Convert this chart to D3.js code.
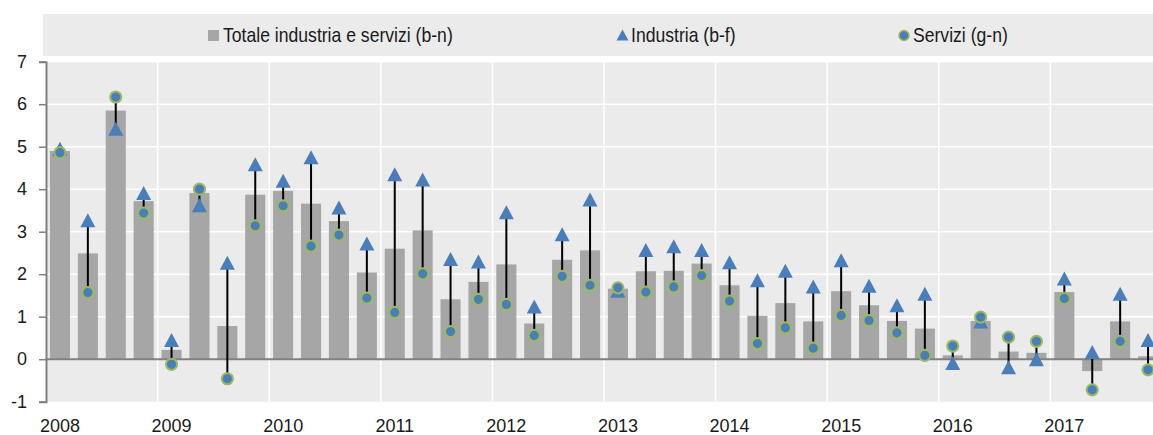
<!DOCTYPE html>
<html>
<head>
<meta charset="utf-8">
<script src="https://cdn.jsdelivr.net/npm/d3@7"></script>
<style>
  html, body { margin: 0; padding: 0; background: #fff; }
  svg { display: block; }
  .leg text { font-family: "Liberation Sans", Arial, sans-serif; font-size: 20px; fill: #1a1a1a; }
  .axis text { font-family: "Liberation Sans", Arial, sans-serif; font-size: 18px; fill: #1a1a1a; }
</style>
</head>
<body>
<div id="chart"></div>
<script>
// trimestri 2008-2017
const quarters = [
  "2008T1","2008T2","2008T3","2008T4","2009T1","2009T2","2009T3","2009T4",
  "2010T1","2010T2","2010T3","2010T4","2011T1","2011T2","2011T3","2011T4",
  "2012T1","2012T2","2012T3","2012T4","2013T1","2013T2","2013T3","2013T4",
  "2014T1","2014T2","2014T3","2014T4","2015T1","2015T2","2015T3","2015T4",
  "2016T1","2016T2","2016T3","2016T4","2017T1","2017T2","2017T3","2017T4"
];
const yearLabels = ["2008","2009","2010","2011","2012","2013","2014","2015","2016","2017"];
const yTicks = [-1, 0, 1, 2, 3, 4, 5, 6, 7];

const totale = [4.90, 2.49, 5.85, 3.72, 0.22, 3.91, 0.78, 3.87, 3.96, 3.66, 3.25, 2.04,
  2.60, 3.03, 1.41, 1.82, 2.23, 0.84, 2.34, 2.56, 1.66, 2.07, 2.08, 2.25,
  1.74, 1.02, 1.32, 0.89, 1.60, 1.27, 0.90, 0.72, 0.09, 0.90, 0.18, 0.15,
  1.58, -0.28, 0.89, 0.07];
const industria = [4.95, 3.27, 5.42, 3.91, 0.45, 3.62, 2.27, 4.59, 4.20, 4.75, 3.57, 2.72,
  4.35, 4.23, 2.36, 2.30, 3.46, 1.24, 2.94, 3.76, 1.61, 2.57, 2.66, 2.57,
  2.28, 1.86, 2.08, 1.71, 2.33, 1.73, 1.27, 1.54, -0.09, 0.89, -0.19, 0.00,
  1.90, 0.17, 1.54, 0.45];
const servizi = [4.86, 1.57, 6.17, 3.44, -0.12, 4.00, -0.46, 3.14, 3.61, 2.66, 2.92, 1.44,
  1.10, 2.01, 0.65, 1.41, 1.29, 0.56, 1.95, 1.74, 1.68, 1.58, 1.70, 1.97,
  1.37, 0.37, 0.74, 0.26, 1.03, 0.91, 0.62, 0.09, 0.31, 0.99, 0.52, 0.42,
  1.43, -0.72, 0.42, -0.25];

const legendItems = ["Totale industria e servizi (b-n)", "Industria (b-f)", "Servizi (g-n)"];

const W = 1153, H = 435;
const grey = "#a6a6a6", blue = "#4a7ebb", green = "#9bbb59", bg = "#ebebeb";

const svg = d3.select("#chart").append("svg").attr("width", W).attr("height", H);

const x = d3.scaleBand().domain(quarters).range([46, 1162]).paddingInner(0.28).paddingOuter(0.14);
const y = d3.scaleLinear().domain([-1, 7]).range([401.7, 61.7]);

// legenda
const leg = svg.append("g").attr("class", "leg");
leg.append("rect").attr("x", 43).attr("y", 14).attr("width", W - 43).attr("height", 42).attr("fill", bg);
leg.append("rect").attr("x", 208).attr("y", 30).attr("width", 11).attr("height", 11).attr("fill", grey);
leg.append("path").attr("d", "M0,-5.5L6,5.5L-6,5.5Z").attr("transform", "translate(622.5,35)").attr("fill", blue);
leg.append("circle").attr("cx", 904).attr("cy", 35.5).attr("r", 5).attr("fill", blue).attr("stroke", green).attr("stroke-width", 1.6);
// testo stretto (tipo Arial Narrow)
leg.selectAll("text.lt").data(legendItems).enter().append("text")
  .attr("transform", (d, i) => `translate(${[223, 631, 913][i]},42) scale(0.88,1)`)
  .text(d => d);

// sfondo area del grafico
svg.append("rect").attr("x", 46).attr("y", y(7)).attr("width", W - 46).attr("height", y(-1) - y(7)).attr("fill", bg);

// griglia
svg.append("g").selectAll("line").data(yTicks.filter(d => d > -1 && d !== 0)).enter().append("line")
  .attr("x1", 46).attr("x2", W).attr("y1", d => y(d)).attr("y2", d => y(d))
  .attr("stroke", "#fff").attr("stroke-width", 1.5);
svg.append("g").selectAll("line").data(yearLabels.slice(1)).enter().append("line")
  .attr("x1", (d, i) => x(quarters[(i + 1) * 4]) - x.step() * x.paddingInner() / 2)
  .attr("x2", (d, i) => x(quarters[(i + 1) * 4]) - x.step() * x.paddingInner() / 2)
  .attr("y1", y(7)).attr("y2", y(-1)).attr("stroke", "#fff").attr("stroke-width", 1.5);

// barre
svg.append("g").selectAll("rect").data(totale).enter().append("rect")
  .attr("x", (d, i) => x(quarters[i]))
  .attr("width", x.bandwidth())
  .attr("y", d => y(Math.max(0, d)))
  .attr("height", d => Math.abs(y(d) - y(0)))
  .attr("fill", grey);

// asse zero
svg.append("line").attr("x1", 46).attr("x2", W).attr("y1", y(0)).attr("y2", y(0))
  .attr("stroke", "#808080").attr("stroke-width", 2);

// asse y
const yAxis = svg.append("g").attr("class", "axis").attr("transform", "translate(46,0)")
  .call(d3.axisLeft(y).tickValues(yTicks).tickSize(7).tickPadding(12).tickFormat(d => String(d)));
yAxis.select(".domain").attr("stroke", "#808080").attr("stroke-width", 2);
yAxis.selectAll(".tick line").attr("stroke", "#808080").attr("stroke-width", 1.5);

// etichette anni
svg.append("g").attr("class", "axis").selectAll("text").data(yearLabels).enter().append("text")
  .attr("x", (d, i) => x(quarters[i * 4]) + x.bandwidth() / 2)
  .attr("y", 432).attr("text-anchor", "middle").text(d => d);

// linee alto-basso
svg.append("g").selectAll("line").data(quarters).enter().append("line")
  .attr("x1", d => x(d) + x.bandwidth() / 2).attr("x2", d => x(d) + x.bandwidth() / 2)
  .attr("y1", (d, i) => y(industria[i])).attr("y2", (d, i) => y(servizi[i]))
  .attr("stroke", "#000").attr("stroke-width", 2);

// triangoli industria
svg.append("g").selectAll("path").data(industria).enter().append("path")
  .attr("d", "M0,-7L7.5,7L-7.5,7Z")
  .attr("transform", (d, i) => `translate(${x(quarters[i]) + x.bandwidth() / 2},${y(d)})`)
  .attr("fill", blue);

// cerchi servizi
svg.append("g").selectAll("circle").data(servizi).enter().append("circle")
  .attr("cx", (d, i) => x(quarters[i]) + x.bandwidth() / 2)
  .attr("cy", d => y(d))
  .attr("r", 5.6)
  .attr("fill", blue).attr("stroke", green).attr("stroke-width", 2);
</script>
</body>
</html>
